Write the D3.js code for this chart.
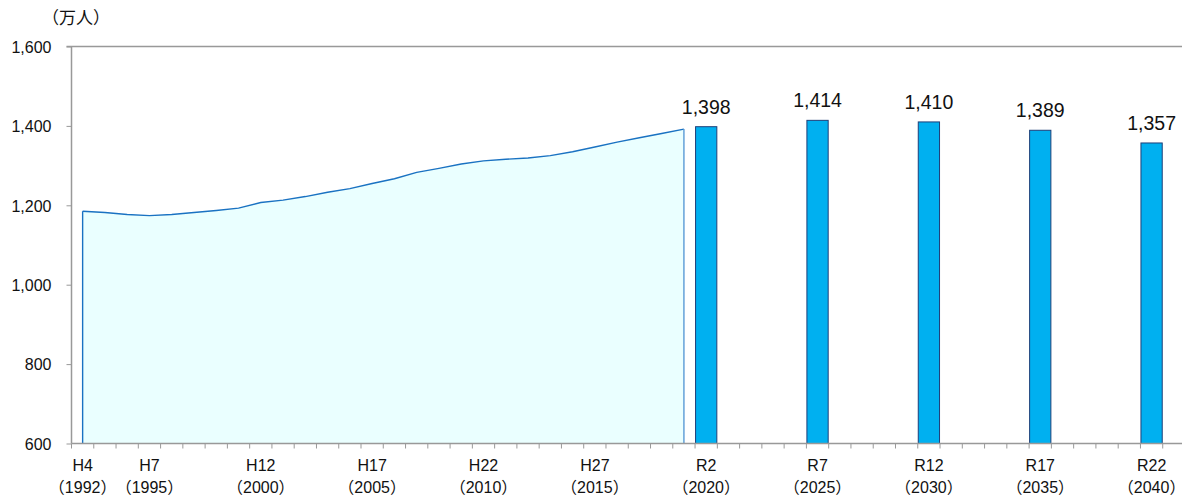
<!DOCTYPE html>
<html>
<head>
<meta charset="utf-8">
<script src="https://cdn.jsdelivr.net/npm/d3@7"></script>
<style>
  html, body { margin: 0; padding: 0; background: #fff; }
  svg { display: block; }
  text { font-family: "Liberation Sans", Arial, "Noto Sans CJK JP", sans-serif; fill: #111; }
</style>
</head>
<body>
<div id="chart"></div>
<script>
// Population (10,000 persons): annual actuals, then five-year projections
const actualYears = d3.range(1992, 2020);
const actualValues = [1185, 1182, 1177, 1174, 1177, 1182, 1187, 1193, 1207, 1213,
                      1222, 1233, 1242, 1255, 1267, 1283, 1293, 1304, 1312, 1316,
                      1319, 1325, 1335, 1347, 1359, 1370, 1381, 1392];
const projYears = [2020, 2025, 2030, 2035, 2040];
const projValues = [1398, 1414, 1410, 1389, 1357];
const yTicks = [600, 800, 1000, 1200, 1400, 1600];
const xLabelYears = [1992, 1995, 2000, 2005, 2010, 2015, 2020, 2025, 2030, 2035, 2040];
const xLabelEras = ["H4", "H7", "H12", "H17", "H22", "H27", "R2", "R7", "R12", "R17", "R22"];

const W = 1182, H = 497;
const svg = d3.select("#chart").append("svg").attr("width", W).attr("height", H);

const plotLeft = 71.5, plotTop = 46.5, plotBottom = 443.5;
const categories = d3.range(1992, 2042);
const x = d3.scaleBand().domain(categories).range([plotLeft, plotLeft + categories.length * 22.27]).padding(0);
const y = d3.scaleLinear().domain([600, 1600]).range([plotBottom, plotTop]);
const cx = yr => x(yr) + x.bandwidth() / 2;

// Area for the annual series
const pts = actualYears.map((yr, i) => [cx(yr), y(actualValues[i])]);
const area = d3.area().x(d => d[0]).y0(y(600)).y1(d => d[1]);
svg.append("path").datum(pts).attr("d", area).attr("fill", "#eaffff");
svg.append("path").datum(pts).attr("d", d3.line())
  .attr("fill", "none").attr("stroke", "#1a72c2").attr("stroke-width", 1.4);
svg.append("line")
  .attr("x1", pts[0][0]).attr("x2", pts[0][0]).attr("y1", pts[0][1]).attr("y2", y(600))
  .attr("stroke", "#1a72c2").attr("stroke-width", 1.4);
const last = pts[pts.length - 1];
svg.append("line")
  .attr("x1", last[0]).attr("x2", last[0]).attr("y1", last[1]).attr("y2", y(600))
  .attr("stroke", "#5a9ad6").attr("stroke-width", 1.4);

// Projection bars
svg.selectAll("rect.bar").data(projYears).enter().append("rect")
  .attr("class", "bar")
  .attr("x", d => x(d) + 0.5)
  .attr("width", x.bandwidth() - 1)
  .attr("y", (d, i) => y(projValues[i]))
  .attr("height", (d, i) => y(600) - y(projValues[i]))
  .attr("fill", "#00b0f0").attr("stroke", "#1f3f78").attr("stroke-width", 1);

svg.selectAll("text.val").data(projYears).enter().append("text")
  .attr("class", "val")
  .attr("x", d => cx(d))
  .attr("y", (d, i) => y(projValues[i]) - 13)
  .attr("text-anchor", "middle")
  .attr("font-size", 19.5)
  .text((d, i) => d3.format(",")(projValues[i]));

// Axes
const axisColor = "#999";
const yAxis = svg.append("g").attr("transform", `translate(${plotLeft},0)`)
  .call(d3.axisLeft(y).tickValues(yTicks).tickSize(5).tickFormat(d3.format(",")));
yAxis.select(".domain").attr("stroke", axisColor).attr("stroke-width", 1.5).attr("d", `M0,${plotTop}V${plotBottom}`);
yAxis.selectAll(".tick line").attr("stroke", axisColor);
yAxis.selectAll(".tick text").attr("font-size", 16).attr("x", -20).attr("dy", "0.36em");

// top border at 1600
svg.append("line").attr("x1", plotLeft - 5).attr("x2", W).attr("y1", plotTop).attr("y2", plotTop)
  .attr("stroke", axisColor).attr("stroke-width", 1.5);

// x axis with ticks at category boundaries
svg.append("line").attr("x1", plotLeft).attr("x2", W).attr("y1", plotBottom).attr("y2", plotBottom)
  .attr("stroke", axisColor).attr("stroke-width", 1.5);
const boundaries = categories.map(c => x(c)).concat([x(categories[categories.length - 1]) + x.bandwidth()]);
svg.selectAll("line.xt").data(boundaries.filter(b => b < W)).enter().append("line")
  .attr("class", "xt")
  .attr("x1", d => d).attr("x2", d => d).attr("y1", plotBottom).attr("y2", plotBottom + 5)
  .attr("stroke", axisColor).attr("stroke-width", 1);

const xl = svg.selectAll("g.xl").data(xLabelYears).enter().append("g").attr("class", "xl")
  .attr("transform", d => `translate(${cx(d)},0)`);
xl.append("text").attr("y", 471).attr("text-anchor", "middle").attr("font-size", 16)
  .text((d, i) => xLabelEras[i]);
xl.append("text").attr("y", 492.5).attr("text-anchor", "middle").attr("font-size", 16)
  .text(d => "（" + d + "）");

// unit label
svg.append("text").attr("x", 42).attr("y", 24).attr("font-size", 17)
  .style("font-family", "'Noto Sans CJK JP', sans-serif").text("（万人）");
</script>
</body>
</html>
